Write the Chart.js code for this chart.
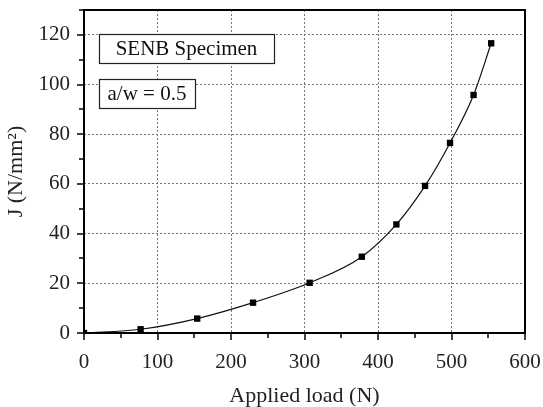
<!DOCTYPE html>
<html>
<head>
<meta charset="utf-8">
<script src="https://cdn.jsdelivr.net/npm/chart.js@4"></script>
<style>
  html, body { margin: 0; padding: 0; background: #fff; }
  #wrap { width: 543px; height: 407px; }
</style>
</head>
<body>
<div id="wrap"><canvas id="c" width="543" height="407"></canvas></div>
<script>
// Data
const loadN = [0, 77, 154, 230, 307, 378, 425, 464, 498, 530, 554];
const jValues = [0, 1.5, 5.8, 12.2, 20.2, 30.7, 43.7, 59.2, 76.5, 95.8, 116.6];
const xTicks = [0, 100, 200, 300, 400, 500, 600];
const yTicks = [0, 20, 40, 60, 80, 100, 120];
const labelBoxes = ["SENB Specimen", "a/w = 0.5"];

const FONT = '"Liberation Serif", "DejaVu Serif", serif';

// Frame, minor/major tick marks and the two text boxes.
const decorations = {
  id: "decorations",
  afterDatasetsDraw(chart) {
    const { ctx, chartArea: a, scales: { x, y } } = chart;
    ctx.save();
    ctx.strokeStyle = "#000";
    ctx.lineWidth = 2;
    ctx.strokeRect(a.left, a.top, a.right - a.left, a.bottom - a.top);

    ctx.lineWidth = 1.5;
    ctx.beginPath();
    for (let v = 0; v <= 600; v += 50) {
      const px = Math.round(x.getPixelForValue(v));
      const len = v % 100 === 0 ? 7 : 5;
      ctx.moveTo(px, a.bottom);
      ctx.lineTo(px, a.bottom + len);
    }
    for (let v = 0; v <= 130; v += 10) {
      const py = Math.round(y.getPixelForValue(v));
      const len = v % 20 === 0 ? 7 : 5;
      ctx.moveTo(a.left, py);
      ctx.lineTo(a.left - len, py);
    }
    ctx.stroke();

    // text boxes
    ctx.font = "21px " + FONT;
    ctx.textBaseline = "middle";
    ctx.lineWidth = 1.2;
    const boxes = [
      { x: 99, y: 34, w: 175, h: 29 },
      { x: 99, y: 79, w: 96, h: 29 },
    ];
    boxes.forEach((b, i) => {
      ctx.fillStyle = "#fff";
      ctx.fillRect(b.x, b.y, b.w, b.h);
      ctx.strokeStyle = "#222";
      ctx.strokeRect(b.x + 0.5, b.y + 0.5, b.w, b.h);
      ctx.fillStyle = "#111";
      ctx.textAlign = "center";
      ctx.fillText(labelBoxes[i], b.x + b.w / 2, b.y + b.h / 2 + 1);
    });
    ctx.restore();
  },
};

new Chart(document.getElementById("c"), {
  type: "line",
  data: {
    datasets: [{
      data: loadN.map((v, i) => ({ x: v, y: jValues[i] })),
      borderColor: "#111",
      borderWidth: 1.2,
      backgroundColor: "#000",
      pointStyle: "rect",
      pointRadius: 4.5,
      pointBorderWidth: 0,
      cubicInterpolationMode: "monotone",
    }],
  },
  plugins: [decorations],
  options: {
    responsive: false,
    animation: false,
    layout: { padding: { top: 10, right: 18, left: 0, bottom: 0 } },
    plugins: { legend: { display: false }, tooltip: { enabled: false } },
    scales: {
      x: {
        type: "linear",
        min: 0,
        max: 600,
        afterBuildTicks: (s) => { s.ticks = xTicks.map((v) => ({ value: v })); },
        afterFit: (s) => { s.height = 74; s.paddingLeft = 0; s.paddingRight = 0; },
        grid: {
          drawTicks: false,
          color: (c) => (c.tick && c.tick.value > 0 && c.tick.value < 600 ? "#777" : "rgba(0,0,0,0)"),
          lineWidth: 1,
        },
        border: { display: false, dash: [2, 2] },
        ticks: { color: "#222", padding: 17, font: { family: FONT, size: 21 } },
        title: {
          display: true,
          text: "Applied load (N)",
          color: "#222",
          font: { family: FONT, size: 22, lineHeight: 1.0 },
          padding: { top: 4, bottom: 0 },
        },
      },
      y: {
        type: "linear",
        min: 0,
        max: 130,
        afterBuildTicks: (s) => { s.ticks = yTicks.map((v) => ({ value: v })); },
        afterFit: (s) => { s.width = 84; s.paddingTop = 0; s.paddingBottom = 0; },
        grid: {
          drawTicks: false,
          color: (c) => (c.tick && c.tick.value > 0 ? "#777" : "rgba(0,0,0,0)"),
          lineWidth: 1,
        },
        border: { display: false, dash: [2, 2] },
        ticks: { color: "#222", padding: 14, font: { family: FONT, size: 21 } },
        title: {
          display: true,
          text: "J (N/mm²)",
          color: "#222",
          font: { family: FONT, size: 22, lineHeight: 1.0 },
          padding: { top: 5, bottom: 0 },
        },
      },
    },
  },
});
</script>
</body>
</html>
